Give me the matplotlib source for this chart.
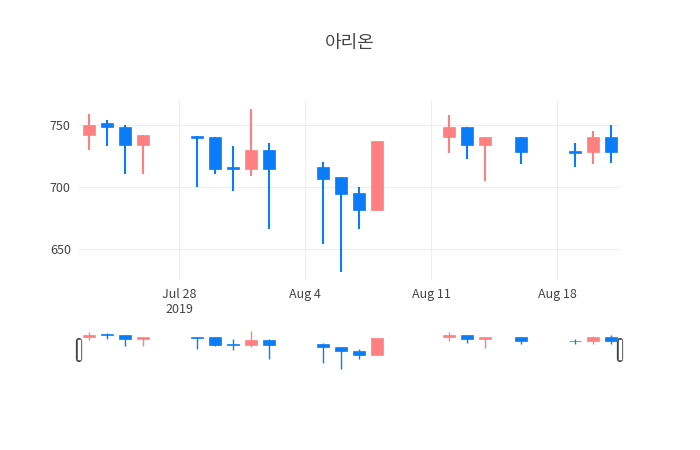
import numpy as np
import matplotlib
matplotlib.use("Agg")
import matplotlib.pyplot as plt
import matplotlib.dates as mdates
import pandas as pd

plt.rcParams['font.family'] = ['Noto Sans CJK KR', 'DejaVu Sans']

dates = ["2019-07-23", "2019-07-24", "2019-07-25", "2019-07-26", "2019-07-29",
         "2019-07-30", "2019-07-31", "2019-08-01", "2019-08-02", "2019-08-05",
         "2019-08-06", "2019-08-07", "2019-08-08", "2019-08-12", "2019-08-13",
         "2019-08-14", "2019-08-16", "2019-08-19", "2019-08-20", "2019-08-21"]
opens  = [742, 751, 748, 734, 741, 740, 716, 714, 730, 716, 708, 695, 681, 740, 748, 734, 740, 729, 728, 740]
highs  = [759, 754, 750, 742, 741, 740, 733, 763, 735, 720, 708, 700, 737, 758, 748, 740, 740, 735, 745, 750]
lows   = [730, 733, 710, 710, 700, 710, 697, 709, 666, 654, 631, 666, 681, 727, 722, 705, 718, 716, 718, 719]
closes = [750, 748, 734, 742, 739, 714, 714, 730, 714, 706, 694, 681, 737, 748, 734, 740, 728, 727, 740, 728]

RED, BLUE = "#ff8080", "#0a7cf8"
x = mdates.date2num(pd.to_datetime(dates))
x0 = mdates.date2num(pd.Timestamp("2019-07-22")) + 0.45
x1 = mdates.date2num(pd.Timestamp("2019-08-21")) + 0.5

fig = plt.figure(figsize=(7, 4.5), dpi=100)
ax = fig.add_axes([0.113, 0.378, 0.773, 0.4])
sl = fig.add_axes([0.113, 0.178, 0.773, 0.089])


def candles(a, lw):
    for xi, o, h, l, c in zip(x, opens, highs, lows, closes):
        col = RED if c > o else BLUE
        a.vlines(xi, l, h, color=col, lw=lw, zorder=2)
        lo, hi = min(o, c), max(o, c)
        a.bar(xi, max(hi - lo, 0.8), bottom=lo, width=0.67, color=col,
              edgecolor=col, lw=0.5, zorder=3)


candles(ax, 1.5)
ax.set_xlim(x0, x1)
ax.set_ylim(625, 770)
ax.set_yticks([650, 700, 750])
ticks = [mdates.date2num(pd.Timestamp(d)) for d in ["2019-07-28", "2019-08-04", "2019-08-11", "2019-08-18"]]
ax.set_xticks(ticks)
ax.set_xticklabels(["Jul 28\n2019", "Aug 4", "Aug 11", "Aug 18"])
ax.grid(color="#eeeeee", lw=0.8, zorder=0)
ax.tick_params(length=0, colors="#444444", labelsize=9, pad=6)
for s in ax.spines.values():
    s.set_visible(False)

candles(sl, 1.0)
sl.set_xlim(x0, x1)
sl.set_ylim(629, 766)
sl.set_xticks([]); sl.set_yticks([])
for s in sl.spines.values():
    s.set_visible(False)
for hx in (x0, x1):
    sl.plot([hx, hx], [0.27, 0.73], transform=sl.get_xaxis_transform(),
            color="#444444", lw=4.5, solid_capstyle="round", clip_on=False)
    sl.plot([hx, hx], [0.29, 0.71], transform=sl.get_xaxis_transform(),
            color="white", lw=2.5, clip_on=False)

fig.text(0.5, 0.905, "아리온", ha="center", va="center", fontsize=13, color="#444444")
fig.savefig("out.png")
